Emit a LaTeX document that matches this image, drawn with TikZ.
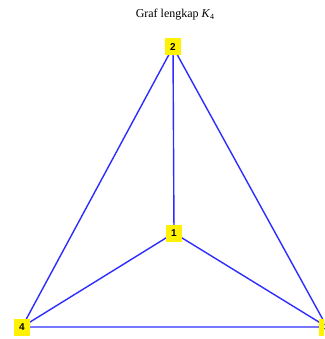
\documentclass[tikz,border=0pt]{standalone}
\usepackage{fontspec}
\setmainfont{Liberation Serif}
\newfontfamily\labfont{Liberation Sans}
\begin{document}
\begin{tikzpicture}[x=1pt,y=-1pt,
  vtx/.style={fill=yellow,inner sep=0pt,minimum width=16pt,minimum height=17pt,font=\labfont\bfseries\fontsize{10}{10}\selectfont},
  edge/.style={draw={rgb,255:red,45;green,45;blue,255},line width=1.4pt}]
\useasboundingbox (0,0) rectangle (324,339);
\clip (0,0) rectangle (324,339);
\fill[white] (0,0) rectangle (324,339);
\coordinate (c1) at (174,233);
\coordinate (c2) at (173,47);
\coordinate (c3) at (327,327);
\coordinate (c4) at (22,327);
\draw[edge] (c1) -- (c2) (c1) -- (c3) (c1) -- (c4) (c2) -- (c3) (c2) -- (c4) (c3) -- (c4);
\node[vtx] (n1) at (c1) {1};
\node[vtx] (n2) at (c2) {2};
\node[vtx] (n3) at (c3) {3};
\node[vtx] (n4) at (c4) {4};
\node[font=\fontsize{12}{13}\selectfont] (title) at (175,15) {Graf lengkap \textit{K}\raisebox{-0.35ex}{\fontsize{8}{8}\selectfont 4}};
\end{tikzpicture}
\end{document}
